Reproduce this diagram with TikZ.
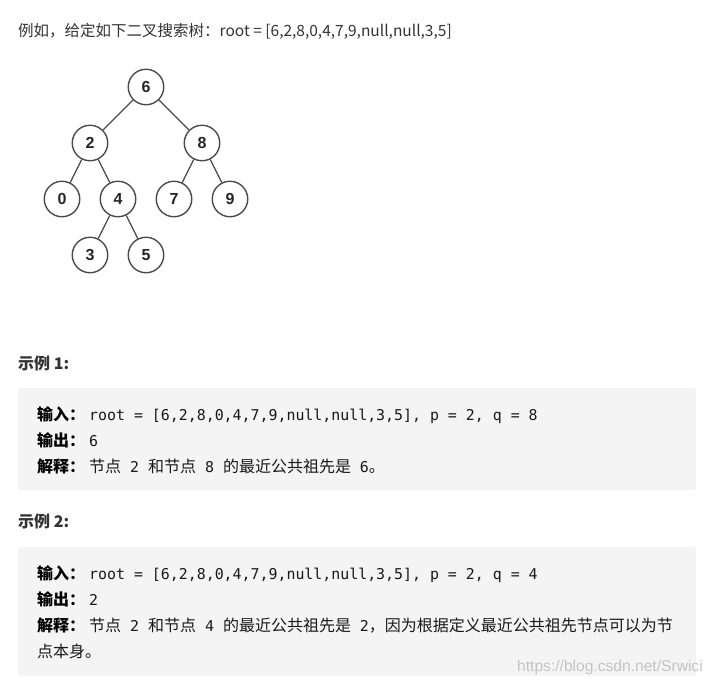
\documentclass[tikz,border=0pt]{standalone}
\usepackage{fontspec}
\setmainfont{Noto Sans CJK SC}
\setmonofont{DejaVu Sans Mono}
\newfontfamily\numfont{Liberation Sans}
\usetikzlibrary{positioning}

\definecolor{boxgray}{HTML}{F4F4F4}
\definecolor{textgray}{HTML}{333333}
\definecolor{edgegray}{HTML}{4A4A4A}
\definecolor{markgray}{HTML}{C4C4C4}

\newcommand{\cd}[1]{{\ttfamily\fontsize{14.9}{18}\selectfont #1}}

\tikzset{
	treenode/.style={circle, draw=edgegray, line width=1.4pt, minimum size=35.5pt, inner sep=0pt,
		font=\numfont\bfseries\fontsize{16}{18}\selectfont, text=black!85},
	treeedge/.style={draw=edgegray, line width=1.3pt},
	codebox/.style={fill=boxgray, rounded corners=3pt},
	plain/.style={anchor=base west, inner sep=0pt, font=\fontsize{16}{19}\selectfont, text=black!90},
	codelbl/.style={plain, font=\bfseries\fontsize{16}{19}\selectfont, text=black},
	titletext/.style={plain, font=\bfseries\fontsize{16}{19}\selectfont, text=textgray},
}

\begin{document}
\begin{tikzpicture}[x=1pt, y=-1pt]
	\useasboundingbox[fill=white] (0,0) rectangle (713,686);

	% header line
	\node[plain, text=textgray, font=\fontsize{15.5}{19}\selectfont] (head) at (18,36) {例如，给定如下二叉搜索树：root = [6,2,8,0,4,7,9,null,null,3,5]};

	% the search tree
	\foreach \n/\x/\y in {6/146/87, 2/90/143, 8/202/143, 0/62/199, 4/118/199, 7/174/199, 9/230/199, 3/90/255, 5/146/255}
	{
		\node[treenode] (n\n) at (\x,\y) {\n};
	}
	\foreach \a/\b in {6/2, 6/8, 2/0, 2/4, 8/7, 8/9, 4/3, 4/5}
	{
		\draw[treeedge] (n\a) -- (n\b);
	}

	% example 1
	\node[titletext] (ttlA) at (18,369) {示例 1:};
	\fill[codebox] (18,388) rectangle (696,490);
	\node[codelbl] (inA) at (37,420) {输入：};
	\node[plain] (inAv) at (89,420) {\cd{root = [6,2,8,0,4,7,9,null,null,3,5], p = 2, q = 8}};
	\node[codelbl] (outA) at (37,446) {输出：};
	\node[plain] (outAv) at (89,446) {\cd{6}};
	\node[codelbl] (expA) at (37,472) {解释：};
	\node[plain] (expAv) at (89,472) {节点\cd{ 2 }和节点\cd{ 8 }的最近公共祖先是\cd{ 6}。};

	% example 2
	\node[titletext] (ttlB) at (18,527) {示例 2:};
	\fill[codebox] (18,547) rectangle (696,676);
	\node[codelbl] (inB) at (37,579) {输入：};
	\node[plain] (inBv) at (89,579) {\cd{root = [6,2,8,0,4,7,9,null,null,3,5], p = 2, q = 4}};
	\node[codelbl] (outB) at (37,605) {输出：};
	\node[plain] (outBv) at (89,605) {\cd{2}};
	\node[codelbl] (expB) at (37,631) {解释：};
	\node[plain] (expBv) at (89,631) {节点\cd{ 2 }和节点\cd{ 4 }的最近公共祖先是\cd{ 2}，因为根据定义最近公共祖先节点可以为节};
	\node[plain] (expBw) at (37,657) {点本身。};

	% watermark
	\node[anchor=base west, inner sep=0pt, font=\numfont\fontsize{15.6}{18}\selectfont, text=markgray] (mark) at (517,671) {https://blog.csdn.net/Srwici};
\end{tikzpicture}
\end{document}
